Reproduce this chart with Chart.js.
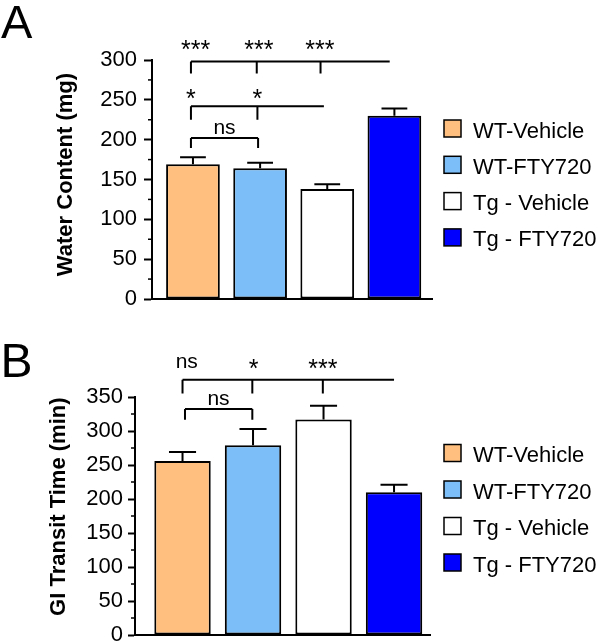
<!DOCTYPE html>
<html>
<head>
<meta charset="utf-8">
<script src="https://cdn.jsdelivr.net/npm/chart.js@4.4.1/dist/chart.umd.min.js"></script>
<style>
  body { margin: 0; background: #fff; }
  canvas { position: absolute; left: 0; }
  #chartA { top: 0; }
  #chartB { top: 315px; }
</style>
</head>
<body>
<canvas id="chartA" width="600" height="315"></canvas>
<canvas id="chartB" width="600" height="328"></canvas>
<script>
// groups shared by both panels
const groups = ["WT-Vehicle", "WT-FTY720", "Tg - Vehicle", "Tg - FTY720"];
const groupColors = ["#FFC07F", "#7BBEF8", "#FFFFFF", "#0000FF"];

// panel A: water content (mg), mean and SEM
const waterMeans = [169, 164, 138, 230];
const waterSem = [9, 7, 6, 9];
const waterTicks = [0, 50, 100, 150, 200, 250, 300];
const waterSigTop = ["***", "***", "***"];
const waterSigMid = ["*", "*"];
const waterSigLow = ["ns"];

// panel B: GI transit time (min), mean and SEM
const transitMeans = [256, 279, 317, 210];
const transitSem = [13, 24, 20, 11];
const transitTicks = [0, 50, 100, 150, 200, 250, 300, 350];
const transitSigTop = ["ns", "*", "***"];
const transitSigLow = ["ns"];

const FONT = "'Liberation Sans', Arial, Helvetica, sans-serif";
Chart.defaults.font.family = FONT;
Chart.defaults.color = "#000";

function drawSig(ctx, text, px, cy) {
  const stars = text.indexOf("*") >= 0;
  const size = stars ? 25 : 21;
  ctx.font = size + "px " + FONT;
  ctx.textAlign = "center";
  ctx.textBaseline = "alphabetic";
  ctx.fillText(text, px, cy + (stars ? 0.58 : 0.26) * size);
}

const figurePlugin = {
  id: "figure",
  afterDraw(chart) {
    const cfg = chart.options.plugins.figure;
    const { ctx, scales: { x, y }, chartArea } = chart;
    const meta = chart.getDatasetMeta(0);
    const means = chart.data.datasets[0].data;
    ctx.save();
    ctx.strokeStyle = "#000";
    ctx.fillStyle = "#000";
    ctx.lineWidth = 2;

    // error bars (upper only)
    meta.data.forEach((bar, i) => {
      const top = y.getPixelForValue(means[i].y + cfg.sem[i]);
      const cap = bar.width * 0.24;
      ctx.beginPath();
      ctx.moveTo(bar.x, bar.y);
      ctx.lineTo(bar.x, top);
      ctx.moveTo(bar.x - cap, top);
      ctx.lineTo(bar.x + cap, top);
      ctx.stroke();
    });

    // minor ticks on the y axis
    ctx.lineWidth = 1.5;
    for (let v = 25; v < y.max; v += 50) {
      const py = y.getPixelForValue(v);
      ctx.beginPath();
      ctx.moveTo(chartArea.left - 4, py);
      ctx.lineTo(chartArea.left, py);
      ctx.stroke();
    }

    // significance brackets
    ctx.lineWidth = 2;
    cfg.brackets.forEach(b => {
      const ly = y.getPixelForValue(b.level);
      const dy = y.getPixelForValue(b.dropTo);
      ctx.beginPath();
      ctx.moveTo(x.getPixelForValue(b.from), ly);
      ctx.lineTo(x.getPixelForValue(b.to), ly);
      b.drops.forEach(d => {
        const dx = x.getPixelForValue(d);
        ctx.moveTo(dx, ly);
        ctx.lineTo(dx, dy);
      });
      ctx.stroke();
      b.labels.forEach((t, i) => {
        drawSig(ctx, t, x.getPixelForValue(b.labelX[i]), y.getPixelForValue(b.labelY));
      });
    });

    // y axis title
    ctx.save();
    ctx.translate(cfg.title.x, cfg.title.y);
    ctx.rotate(-Math.PI / 2);
    ctx.font = "bold 22px " + FONT;
    ctx.textAlign = "center";
    ctx.textBaseline = "alphabetic";
    ctx.fillText(cfg.title.text, 0, 0);
    ctx.restore();

    // panel letter
    ctx.font = cfg.letter.size + "px " + FONT;
    ctx.textAlign = "left";
    ctx.fillText(cfg.letter.text, cfg.letter.x, cfg.letter.y);

    // legend
    ctx.font = "22px " + FONT;
    ctx.lineWidth = 1.5;
    groups.forEach((g, i) => {
      const cy = cfg.legend.y + i * cfg.legend.gap;
      ctx.fillStyle = groupColors[i];
      ctx.fillRect(cfg.legend.x, cy - 8.5, 17, 17);
      ctx.strokeRect(cfg.legend.x, cy - 8.5, 17, 17);
      ctx.fillStyle = "#000";
      ctx.fillText(g, cfg.legend.x + 29, cy + 9);
    });
    ctx.restore();
  }
};

function makeChart(id, means, opts) {
  return new Chart(document.getElementById(id), {
    type: "bar",
    data: {
      datasets: [{
        data: means.map((v, i) => ({ x: i, y: v })),
        backgroundColor: groupColors,
        borderColor: "#000",
        borderWidth: 2,
        borderSkipped: false,
        barPercentage: 0.8,
        categoryPercentage: 1
      }]
    },
    options: {
      responsive: false,
      animation: false,
      layout: { padding: opts.padding },
      scales: {
        x: {
          type: "linear",
          offset: false,
          min: opts.xMin,
          max: opts.xMax,
          afterFit: s => { s.height = 0; },
          grid: { display: false, offset: false },
          border: { display: true, color: "#000", width: 2 },
          ticks: { display: false }
        },
        y: {
          min: 0,
          max: opts.yMax,
          afterFit: s => { s.width = opts.axisWidth; s.paddingTop = 0; s.paddingBottom = 0; },
          border: { display: true, color: "#000", width: 2 },
          grid: {
            drawOnChartArea: false,
            tickLength: opts.tickLength,
            tickWidth: 2,
            tickColor: c => (c.tick && c.tick.value % 50 === 0) ? "#000" : "rgba(0,0,0,0)"
          },
          ticks: {
            stepSize: 25,
            autoSkip: false,
            padding: opts.tickPad,
            color: "#000",
            font: { size: 22 },
            callback: v => opts.tickLabels.includes(v) ? String(v) : ""
          }
        }
      },
      plugins: {
        legend: { display: false },
        tooltip: { enabled: false },
        figure: opts.figure
      }
    },
    plugins: [figurePlugin]
  });
}

makeChart("chartA", waterMeans, {
  padding: { left: 0, right: 168, top: 60, bottom: 16 },
  xMin: -0.61, xMax: 3.56, yMax: 300,
  axisWidth: 152, tickLength: 8, tickPad: 7,
  tickLabels: waterTicks,
  figure: {
    sem: waterSem,
    title: { text: "Water Content (mg)", x: 71.5, y: 174.5 },
    letter: { text: "A", size: 47, x: 1, y: 38 },
    legend: { x: 444, y: 128.5, gap: 36.3 },
    brackets: [
      { level: 298, from: -0.03, to: 2.93, drops: [-0.03, 0.95, 1.9], dropTo: 283,
        labels: waterSigTop, labelX: [0.04, 0.98, 1.89], labelY: 321 },
      { level: 242, from: -0.03, to: 1.95, drops: [-0.03, 0.96], dropTo: 225,
        labels: waterSigMid, labelX: [-0.03, 0.96], labelY: 259 },
      { level: 202, from: -0.03, to: 0.97, drops: [-0.03, 0.97], dropTo: 189.5,
        labels: waterSigLow, labelX: [0.47], labelY: 214 }
    ]
  }
});

makeChart("chartB", transitMeans, {
  padding: { left: 0, right: 170, top: 82, bottom: 8 },
  xMin: -0.674, xMax: 3.51, yMax: 350,
  axisWidth: 135, tickLength: 7, tickPad: 5,
  tickLabels: transitTicks,
  figure: {
    sem: transitSem,
    title: { text: "GI Transit Time (min)", x: 65, y: 191.7 },
    letter: { text: "B", size: 48, x: 0.5, y: 61.7 },
    legend: { x: 444, y: 138, gap: 36.5 },
    brackets: [
      { level: 375.5, from: 0, to: 3.0, drops: [0, 0.99, 1.99], dropTo: 355,
        labels: transitSigTop, labelX: [0.06, 1.01, 1.99], labelY: 400.6 },
      { level: 332.4, from: 0.035, to: 0.99, drops: [0.035, 0.99], dropTo: 316.6,
        labels: transitSigLow, labelX: [0.51], labelY: 346 }
    ]
  }
});
</script>
</body>
</html>
